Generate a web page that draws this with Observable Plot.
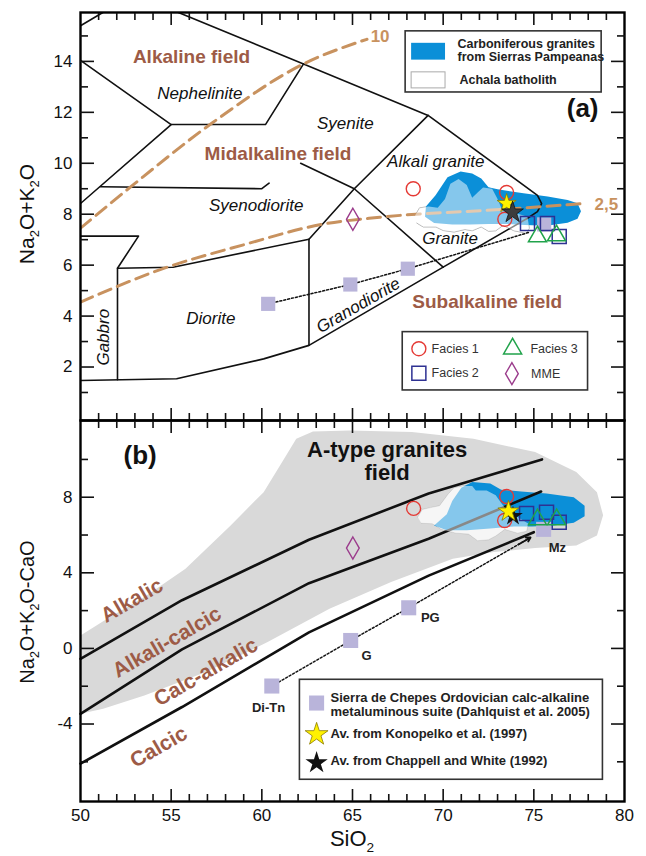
<!DOCTYPE html>
<html><head><meta charset="utf-8">
<script src="https://cdn.jsdelivr.net/npm/d3@7"></script>
<script src="https://cdn.jsdelivr.net/npm/@observablehq/plot@0.6"></script>
<style>
body{margin:0;background:#fff;}
#chart{width:646px;height:856px;overflow:hidden;}
#chart svg{display:block;overflow:visible;}
</style></head><body><div id="chart"></div>
<script>
// ---------- axis ticks ----------
const xMajor = [55, 60, 65, 70, 75];
const xMinor = d3.range(51, 80).filter(d => d % 5 !== 0);
const xLabels = [50, 55, 60, 65, 70, 75, 80];
const yLabelsA = [2, 4, 6, 8, 10, 12, 14];
const yMinorA = [1, 3, 5, 7, 9, 11, 13, 15];
const yLabelsB = [-4, 0, 4, 8];
const yMinorB = [-6, -2, 2, 6, 10];

// ---------- panel (a): TAS boundaries ----------
const tasLines = [
  [[50, 15.4], [51.3, 15.95]],
  [[50, 14.04], [55, 11.52], [60.2, 11.52], [62.3, 13.9]],
  [[55.3, 15.95], [62.3, 13.9], [69.17, 11.88], [75.2, 8.74], [75.43, 8.42], [75.2, 8.1], [74.65, 7.84], [70.0, 5.92], [62.6, 2.85], [60.1, 2.32], [55.3, 1.54], [50, 1.47]],
  [[50, 8.42], [55, 11.52]],
  [[51.1, 9.08], [60.0, 9.0], [60.4, 9.22]],
  [[50, 7.14], [53.2, 7.14], [52.04, 5.88], [52.04, 1.5]],
  [[52.04, 5.88], [55.1, 5.92], [62.6, 7.02], [62.6, 2.85]],
  [[62.6, 7.02], [65.1, 9.0], [69.17, 11.88]],
  [[62.14, 10.0], [65.1, 9.0], [70.0, 5.92]]
];
const curve10 = [[50, 7.45], [52.9, 9.15], [57.2, 11.55], [62.3, 13.9], [65.8, 14.87]];
const curve25 = [[50, 4.55], [54.7, 5.9], [59, 6.8], [63.3, 7.6], [66.5, 7.88], [73.5, 8.2], [77.8, 8.42]];

// ---------- panel (a): fields ----------
const carbA = [[69.0, 7.9], [69.05, 8.3], [69.58, 8.74], [70.24, 9.45], [70.96, 9.68], [71.6, 9.6], [72.1, 9.4], [72.5, 9.06], [73.0, 8.98], [74.43, 8.82], [75.76, 8.7], [76.86, 8.56], [77.41, 8.43], [77.6, 8.12], [77.41, 7.82], [76.86, 7.66], [75.7, 7.55], [74.5, 7.58], [73.5, 7.62], [72.5, 7.62], [71.5, 7.6], [70.5, 7.6], [69.5, 7.65]];
const achalaA = [[68.45, 7.95], [68.7, 8.25], [69.2, 8.3], [69.7, 8.25], [70.1, 8.6], [70.4, 9.2], [70.85, 9.38], [71.3, 9.15], [71.6, 8.65], [71.9, 8.85], [72.2, 9.05], [72.7, 9.0], [73.0, 8.6], [73.2, 8.25], [73.9, 8.07], [74.65, 7.9], [74.75, 7.45], [74.6, 7.25], [73.9, 7.35], [73.3, 7.56], [72.9, 7.35], [72.5, 7.33], [72.1, 7.5], [71.6, 7.35], [71.2, 7.4], [70.6, 7.3], [70.0, 7.36], [69.6, 7.5], [68.9, 7.5], [68.55, 7.65]];

// ---------- panel (a): samples ----------
const facies1A = [[68.35, 9.0], [73.5, 8.85], [73.4, 7.8]];
const facies2A = [[74.65, 7.64], [75.75, 7.64], [76.4, 7.12]];
const facies3A = [[75.2, 7.12], [76.25, 7.16]];
const mmeA = [[65.02, 7.8]];
const chepesA = [[60.35, 4.48], [64.88, 5.24], [68.05, 5.86], [75.57, 7.6]];
const chepesEndA = [74.7, 7.28];
const konopelkoA = [[73.5, 8.42]];
const chappellA = [[73.83, 8.07]];

const boldLabelsA = [
  {t: "Alkaline field", x: 56.12, y: 14.17},
  {t: "Midalkaline field", x: 60.89, y: 10.38},
  {t: "Subalkaline field", x: 72.43, y: 4.55}
];
const italicLabelsA = [
  {t: "Nephelinite", x: 56.58, y: 12.73},
  {t: "Syenite", x: 64.6, y: 11.55},
  {t: "Alkali granite", x: 69.59, y: 10.05},
  {t: "Syenodiorite", x: 59.69, y: 8.35},
  {t: "Granite", x: 70.38, y: 7.06},
  {t: "Diorite", x: 57.19, y: 3.9}
];
const granodioriteLabel = [{t: "Granodiorite", x: 65.32, y: 4.42}];
const gabbroLabel = [{t: "Gabbro", x: 51.25, y: 3.17}];
const curveLabels = [{t: "10", x: 66.0, y: 14.98}, {t: "2,5", x: 78.35, y: 8.38}];

// ---------- panel (b): MALI boundaries ----------
const mali1 = [[50, -0.55], [55.6, 2.55], [62.6, 5.75], [69.2, 8.2], [75.45, 10.0]];
const mali2 = [[50, -3.46], [55.6, -0.05], [62.6, 3.45], [69.2, 5.8], [75.4, 8.3]];
const mali3 = [[50, -6.1], [55.6, -3.1], [62.6, 0.85], [69.2, 3.85], [75.0, 6.15]];

const aTypeField = [[50, 0.69], [51.47, 1.57], [53.52, 2.72], [55.79, 4.22], [58.28, 6.51], [60.1, 8.27], [61.23, 10.04], [61.9, 11.09], [62.82, 11.48], [64.86, 11.53], [68.27, 11.45], [71.67, 11.09], [75.07, 10.39], [77.34, 9.33], [78.48, 8.27], [78.82, 7.04], [78.48, 5.98], [77.34, 5.45], [75.07, 5.31], [72.8, 5.1], [70.53, 4.74], [67.13, 3.51], [63.73, 2.1], [60.32, 0.34], [56.92, -1.25], [53.52, -2.49], [51.25, -3.19], [50, -3.46]];
const carbB = [[69.5, 6.5], [70.2, 7.1], [70.5, 7.8], [71.0, 8.5], [71.6, 8.8], [72.6, 8.72], [73.2, 8.4], [74.3, 8.3], [75.7, 8.2], [77.2, 8.0], [77.8, 7.55], [77.8, 7.0], [77.2, 6.65], [76.1, 6.5], [74.9, 6.45], [73.9, 6.45], [72.6, 6.35], [71.3, 6.25], [70.2, 6.25]];
const achalaB = [[68.6, 6.95], [68.85, 7.35], [69.3, 7.45], [69.8, 7.55], [70.3, 8.2], [70.6, 8.5], [71.1, 8.6], [71.6, 8.6], [71.8, 8.35], [72.4, 8.35], [72.9, 8.1], [73.2, 7.7], [73.6, 7.2], [74.2, 6.9], [74.7, 6.6], [74.6, 6.2], [74.1, 6.1], [73.4, 6.3], [72.9, 5.95], [72.5, 5.75], [71.9, 5.7], [71.4, 6.05], [70.7, 6.1], [69.9, 6.3], [69.4, 6.6], [68.8, 6.62]];

// ---------- panel (b): samples ----------
const facies1B = [[68.37, 7.41], [73.5, 8.04], [73.39, 6.77]];
const facies2B = [[74.6, 7.14], [75.7, 7.2], [76.4, 6.67]];
const facies3B = [[75.2, 6.82], [76.26, 6.82]];
const mmeB = [[65.02, 5.31]];
const chepesB = [[60.55, -1.99], [64.9, 0.42], [68.1, 2.15], [75.54, 6.3]];
const chepesNames = ["Di-Tn", "G", "PG", "Mz"];
const chepesLabelPos = [[60.37, -3.16], [65.77, -0.41], [69.29, 1.6], [76.3, 5.34]];
const chepesEndB = [74.82, 5.87];
const konopelkoB = [[73.6, 7.25]];
const chappellB = [[73.85, 7.0]];

const seriesLabelsB = [
  {t: "Alkalic", x: 52.84, y: 2.54},
  {t: "Alkali-calcic", x: 54.77, y: 0.33},
  {t: "Calc-alkalic", x: 56.92, y: -1.25},
  {t: "Calcic", x: 54.31, y: -5.22}
];

// ---------- styles ----------
const FONT = "'Liberation Sans', Arial, Helvetica, sans-serif";
const BROWN = "#9d5b46";
const TAN = "#c8925f";
const BLUE = "#0b8fd8";
const RED = "#e53a35";
const NAVY = "#2e3192";
const GREEN = "#21a34b";
const PURPLE = "#9b3c8c";
const LILAC = "#b9b4da";
const P = d => d[0], Q = d => d[1];

function frameAndAxes(yMinor, yMajor, yLabels, showX) {
  const tk = {strokeWidth: 1.6, fill: "none", label: null};
  return [
    Plot.frame({stroke: "black", strokeWidth: 2.4}),
    Plot.axisX(xMinor, {anchor: "top", tickSize: -7, ...tk}),
    Plot.axisX(xMajor, {anchor: "top", tickSize: -12, ...tk}),
    Plot.axisX(xMinor, {anchor: "bottom", tickSize: -7, ...tk}),
    Plot.axisX(xMajor, {anchor: "bottom", tickSize: -12, ...tk}),
    Plot.axisY(yMinor, {anchor: "left", tickSize: -8, ...tk}),
    Plot.axisY(yMajor, {anchor: "left", tickSize: -14, ...tk}),
    Plot.axisY(yMinor, {anchor: "right", tickSize: -8, ...tk}),
    Plot.axisY(yMajor, {anchor: "right", tickSize: -14, ...tk}),
    Plot.axisY(yLabels, {anchor: "left", tickSize: 0, tickPadding: 8, label: null, fontSize: 17, tickFormat: d => String(d)}),
    showX ? Plot.axisX(xLabels, {anchor: "bottom", tickSize: 0, tickPadding: 7, label: null, fontSize: 17, tickFormat: d => String(d)}) : null
  ];
}

// ---------- Panel A ----------
const yMajorA = yLabelsA;
const plotA = Plot.plot({
  width: 646, height: 420, marginTop: 12, marginBottom: 0, marginLeft: 80, marginRight: 22,
  x: {domain: [50, 80]}, y: {domain: [-0.1, 15.92]},
  style: {fontFamily: FONT, fontSize: "17px", color: "#111", background: "white", overflow: "visible"},
  marks: [
    Plot.line(achalaA, {x: P, y: Q, fill: "white", stroke: "#aaaaaa", strokeWidth: 1}),
    Plot.line(carbA, {x: P, y: Q, fill: BLUE, stroke: "none"}),
    ...tasLines.map(l => Plot.line(l, {x: P, y: Q, stroke: "#111", strokeWidth: 1.6, clip: true})),
    Plot.line(curve10, {x: P, y: Q, stroke: TAN, strokeWidth: 3, strokeDasharray: "13,7", curve: "monotone-x", clip: true}),
    Plot.line(curve25, {x: P, y: Q, stroke: TAN, strokeWidth: 3, strokeDasharray: "13,7", curve: "monotone-x", clip: true}),
    Plot.line(achalaA, {x: P, y: Q, fill: "white", fillOpacity: 0.5, stroke: "none"}),
    Plot.text(curveLabels, {x: "x", y: "y", text: "t", fill: TAN, fontWeight: "bold", fontSize: 17, textAnchor: "start"}),
    Plot.text(boldLabelsA, {x: "x", y: "y", text: "t", fill: BROWN, fontWeight: "bold", fontSize: 19}),
    Plot.text(italicLabelsA, {x: "x", y: "y", text: "t", fill: "#111", fontStyle: "italic", fontSize: 17}),
    Plot.text(granodioriteLabel, {x: "x", y: "y", text: "t", fill: "#111", fontStyle: "italic", fontSize: 17, rotate: -30}),
    Plot.text(gabbroLabel, {x: "x", y: "y", text: "t", fill: "#111", fontStyle: "italic", fontSize: 17, rotate: -90}),
    Plot.text([{t: "(a)"}], {x: 77.69, y: 12.16, text: "t", fontWeight: "bold", fontSize: 26, fill: "#111"}),
    Plot.line([...chepesA.slice(0, 3), chepesEndA], {x: P, y: Q, stroke: "#111", strokeWidth: 1.5, strokeDasharray: "2,2"}),
    Plot.dot(chepesA, {x: P, y: Q, symbol: "square", r: 8, fill: LILAC}),
    Plot.dot(facies1A, {x: P, y: Q, r: 7, stroke: RED, strokeWidth: 1.4}),
    Plot.dot(facies2A, {x: P, y: Q, symbol: "square", r: 7.9, stroke: NAVY, strokeWidth: 1.5}),
    Plot.dot(facies3A, {x: P, y: Q, symbol: "triangle", r: 6.7, stroke: GREEN, strokeWidth: 1.5}),
    Plot.dot(mmeA, {x: P, y: Q, symbol: "diamond", r: 6.7, stroke: PURPLE, strokeWidth: 1.4}),
    Plot.dot(konopelkoA, {x: P, y: Q, symbol: "star", r: 6.0, fill: "#fff200", stroke: "#8a7a00", strokeWidth: 0.8}),
    Plot.dot(chappellA, {x: P, y: Q, symbol: "star", r: 6.8, fill: "#3c3c3c", stroke: "#111", strokeWidth: 0.8}),
    // legend: fields
    Plot.rect([0], {x1: 67.93, x2: 78.74, y1: 12.78, y2: 15.18, fill: "white", stroke: "#333", strokeWidth: 1.6}),
    Plot.rect([0], {x1: 68.26, x2: 70.13, y1: 14.05, y2: 14.71, fill: BLUE}),
    Plot.rect([0], {x1: 68.26, x2: 70.13, y1: 12.94, y2: 13.57, fill: "white", stroke: "#aaa", strokeWidth: 1}),
    Plot.text(["Carboniferous granites", "from Sierras Pampeanas", "Achala batholith"], {x: [70.79, 70.79, 70.9], y: [14.67, 14.16, 13.28], text: d => d, textAnchor: "start", fontWeight: "bold", fontSize: 12.5, fill: "#222"}),
    // legend: facies
    Plot.rect([0], {x1: 67.77, x2: 77.99, y1: 1.08, y2: 3.37, fill: "white", stroke: "#333", strokeWidth: 1.6}),
    Plot.dot([[68.66, 2.72]], {x: P, y: Q, r: 7, stroke: RED, strokeWidth: 1.4}),
    Plot.dot([[68.66, 1.76]], {x: P, y: Q, symbol: "square", r: 7.9, stroke: NAVY, strokeWidth: 1.5}),
    Plot.dot([[73.83, 2.72]], {x: P, y: Q, symbol: "triangle", r: 6.7, stroke: GREEN, strokeWidth: 1.5}),
    Plot.dot([[73.79, 1.74]], {x: P, y: Q, symbol: "diamond", r: 6.7, stroke: PURPLE, strokeWidth: 1.4}),
    Plot.text(["Facies 1", "Facies 2", "Facies 3", "MME"], {x: [69.36, 69.36, 74.81, 74.85], y: [2.72, 1.76, 2.72, 1.74], text: d => d, textAnchor: "start", fontSize: 12.5, fill: "#333"}),
    ...frameAndAxes(yMinorA, yMajorA, yLabelsA, false)
  ]
});

// ---------- Panel B ----------
const pg = chepesB[2];
const arrowB = [{x1: pg[0] + 0.9 * (chepesEndB[0] - pg[0]), y1: pg[1] + 0.9 * (chepesEndB[1] - pg[1]), x2: chepesEndB[0], y2: chepesEndB[1]}];
const plotB = Plot.plot({
  width: 646, height: 436, marginTop: 0, marginBottom: 55, marginLeft: 80, marginRight: 22,
  x: {domain: [50, 80]}, y: {domain: [-8.1, 12.06]},
  style: {fontFamily: FONT, fontSize: "17px", color: "#111", background: "white", overflow: "visible"},
  marks: [
    Plot.line(aTypeField, {x: P, y: Q, fill: "#d9d9d9", stroke: "none"}),
    Plot.line(achalaB, {x: P, y: Q, fill: "#ececec", stroke: "#bdbdbd", strokeWidth: 0.8}),
    Plot.line(carbB, {x: P, y: Q, fill: BLUE, stroke: "none"}),
    ...[mali1, mali2, mali3].map(l => Plot.line(l, {x: P, y: Q, stroke: "#111", strokeWidth: 2.6})),
    Plot.line(achalaB, {x: P, y: Q, fill: "white", fillOpacity: 0.5, stroke: "none"}),
    Plot.text(seriesLabelsB, {x: "x", y: "y", text: "t", fill: BROWN, fontWeight: "bold", fontSize: 21, rotate: -30}),
    Plot.text(["A-type granites", "field"], {x: [66.91, 66.91], y: [10.48, 9.26], text: d => d, fontWeight: "bold", fontSize: 22, fill: "#111"}),
    Plot.text([{t: "(b)"}], {x: 53.29, y: 10.2, text: "t", fontWeight: "bold", fontSize: 26, fill: "#111"}),
    Plot.line([...chepesB.slice(0, 3), chepesEndB], {x: P, y: Q, stroke: "#111", strokeWidth: 1.5, strokeDasharray: "2,2"}),
    Plot.arrow(arrowB, {x1: "x1", y1: "y1", x2: "x2", y2: "y2", stroke: "#111", strokeWidth: 1.8, headLength: 8}),
    Plot.dot(chepesB, {x: P, y: Q, symbol: "square", r: 8.5, fill: LILAC}),
    Plot.text(chepesLabelPos, {x: P, y: Q, text: (d, i) => chepesNames[i], fontWeight: "bold", fontSize: 13, fill: "#222"}),
    Plot.dot(facies2B, {x: P, y: Q, symbol: "square", r: 7.9, stroke: NAVY, strokeWidth: 1.5}),
    Plot.dot(facies3B, {x: P, y: Q, symbol: "triangle", r: 6.7, stroke: GREEN, strokeWidth: 1.5}),
    Plot.dot(facies1B, {x: P, y: Q, r: 7, stroke: RED, strokeWidth: 1.4}),
    Plot.dot(mmeB, {x: P, y: Q, symbol: "diamond", r: 6.7, stroke: PURPLE, strokeWidth: 1.4}),
    Plot.dot(chappellB, {x: P, y: Q, symbol: "star", r: 6.2, fill: "#111"}),
    Plot.dot(konopelkoB, {x: P, y: Q, symbol: "star", r: 6.6, fill: "#fff200", stroke: "#8a7a00", strokeWidth: 0.8}),
    // legend
    Plot.rect([0], {x1: 62.1, x2: 78.81, y1: -6.95, y2: -1.66, fill: "white", stroke: "#333", strokeWidth: 1.6}),
    Plot.dot([[63.02, -2.89]], {x: P, y: Q, symbol: "square", r: 8.5, fill: LILAC}),
    Plot.dot([[63.02, -4.55]], {x: P, y: Q, symbol: "star", r: 7.2, fill: "#fff200", stroke: "#8a7a00", strokeWidth: 0.8}),
    Plot.dot([[63.02, -6.05]], {x: P, y: Q, symbol: "star", r: 7.0, fill: "#111"}),
    Plot.text(["Sierra de Chepes Ordovician calc-alkaline", "metaluminous suite (Dahlquist et al. 2005)", "Av. from Konopelko et al. (1997)", "Av. from Chappell and White (1992)"],
      {x: 63.79, y: [-2.61, -3.37, -4.51, -5.96], text: d => d, textAnchor: "start", fontWeight: "bold", fontSize: 13, fill: "#222"}),
    ...frameAndAxes(yMinorB, yLabelsB, yLabelsB, true)
  ]
});

const chart = document.getElementById("chart");
chart.append(plotA, plotB);

function subLabel(svg, x, y, angle, size, parts) {
  const t = d3.select(svg).append("text")
    .attr("transform", `translate(${x},${y}) rotate(${angle})`)
    .attr("text-anchor", "middle")
    .attr("font-family", FONT).attr("font-size", size).attr("fill", "#111");
  let low = false;
  parts.forEach(p => {
    if (Array.isArray(p)) {
      t.append("tspan").attr("font-size", size * 0.62).attr("dy", size * 0.25).text(p[0]);
      low = true;
    } else {
      const s = t.append("tspan").text(p);
      if (low) { s.attr("dy", -size * 0.25); low = false; }
    }
  });
}
subLabel(plotA, 34, 214, -90, 21, ["Na", ["2"], "O+K", ["2"], "O"]);
subLabel(plotB, 34, 192, -90, 20, ["Na", ["2"], "O+K", ["2"], "O-CaO"]);
subLabel(plotB, 352, 426, 0, 22, ["SiO", ["2"]]);
</script></body></html>
